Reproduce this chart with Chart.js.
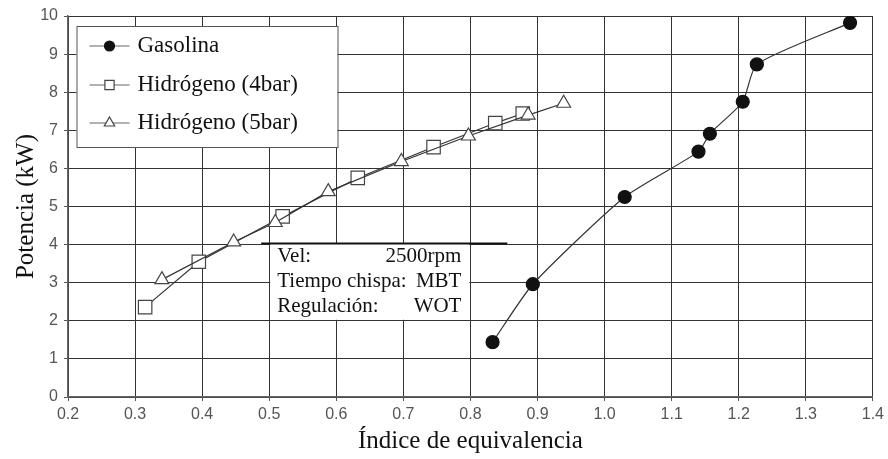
<!DOCTYPE html>
<html>
<head>
<meta charset="utf-8">
<script src="https://cdn.jsdelivr.net/npm/chart.js@4.4.0/dist/chart.umd.min.js"></script>
<style>
  html, body { margin: 0; padding: 0; background: #fff; }
  #wrap { width: 888px; height: 459px; }
</style>
</head>
<body>
<div id="wrap"><canvas id="c"></canvas></div>
<script>
// Potencia frente a índice de equivalencia
const gasolinaX = [0.833, 0.893, 1.030, 1.140, 1.157, 1.206, 1.227, 1.366];
const gasolinaY = [1.44, 2.96, 5.25, 6.44, 6.91, 7.75, 8.73, 9.82];

const h4barX = [0.315, 0.395, 0.520, 0.632, 0.745, 0.837, 0.878];
const h4barY = [2.36, 3.55, 4.74, 5.75, 6.56, 7.19, 7.44];

const h5barX = [0.340, 0.447, 0.509, 0.588, 0.697, 0.797, 0.886, 0.939];
const h5barY = [3.08, 4.07, 4.58, 5.39, 6.18, 6.85, 7.40, 7.71];

const seriesNames = ['Gasolina', 'Hidrógeno (4bar)', 'Hidrógeno (5bar)'];
const noteLines = [['Vel:', '2500rpm'], ['Tiempo chispa:', 'MBT'], ['Regulación:', 'WOT']];
const xTitle = 'Índice de equivalencia';
const yTitle = 'Potencia (kW)';

const pts = (xs, ys) => xs.map((x, i) => ({ x, y: ys[i] }));

const SERIF = '"Liberation Serif", "Times New Roman", serif';
const SANS = '"Liberation Sans", Arial, sans-serif';

const markerStyles = [
  { pointStyle: 'circle', fill: '#111', stroke: '#111', radius: 6.5, legendRadius: 5 },
  { pointStyle: 'rect', fill: '#fff', stroke: '#444', radius: 9.5, legendRadius: 6.5 },
  { pointStyle: 'triangle', fill: '#fff', stroke: '#444', radius: 8, legendRadius: 6 }
];

// White note box with the test conditions
const notePlugin = {
  id: 'noteBox',
  beforeDatasetsDraw(chart) {
    const { ctx, scales: { x, y } } = chart;
    const l = x.getPixelForValue(0.5) + 1, r = x.getPixelForValue(0.8) - 1;
    const t = y.getPixelForValue(4) - 1, b = y.getPixelForValue(2) - 1;
    ctx.save();
    ctx.fillStyle = '#fff';
    ctx.fillRect(l, t, r - l, b - t);
    ctx.strokeStyle = '#111';
    ctx.lineWidth = 2;
    ctx.beginPath();
    ctx.moveTo(x.getPixelForValue(0.488), t);
    ctx.lineTo(x.getPixelForValue(0.855), t);
    ctx.stroke();
    ctx.fillStyle = '#111';
    ctx.font = '21px ' + SERIF;
    ctx.textBaseline = 'alphabetic';
    const textL = l + 7, textR = r - 8;
    noteLines.forEach((row, i) => {
      const base = t + 18 + i * 25;
      ctx.textAlign = 'left';
      ctx.fillText(row[0], textL, base);
      ctx.textAlign = 'right';
      ctx.fillText(row[1], textR, base);
    });
    ctx.restore();
  }
};

// Legend box in the upper-left corner of the plot
const legendPlugin = {
  id: 'boxLegend',
  afterDraw(chart) {
    const { ctx, chartArea } = chart;
    const left = chartArea.left + 8.5, top = chartArea.top + 10;
    const w = 261, h = 121;
    ctx.save();
    ctx.fillStyle = '#fff';
    ctx.fillRect(left, top, w, h);
    ctx.strokeStyle = '#555';
    ctx.lineWidth = 1;
    ctx.strokeRect(left + 0.5, top + 0.5, w, h);
    const rowY = [top + 20, top + 59, top + 97];
    seriesNames.forEach((name, i) => {
      const m = markerStyles[i];
      const cy = rowY[i];
      ctx.strokeStyle = '#666';
      ctx.lineWidth = 1.2;
      ctx.beginPath();
      ctx.moveTo(left + 13, cy);
      ctx.lineTo(left + 53, cy);
      ctx.stroke();
      ctx.fillStyle = m.fill;
      ctx.strokeStyle = m.stroke;
      ctx.lineWidth = 1.2;
      Chart.helpers.drawPoint(ctx, { pointStyle: m.pointStyle, radius: m.legendRadius, rotation: 0, borderWidth: 1.2 }, left + 33, cy);
      ctx.fillStyle = '#111';
      ctx.font = '23px ' + SERIF;
      ctx.textAlign = 'left';
      ctx.textBaseline = 'middle';
      ctx.fillText(name, left + 61, cy);
    });
    ctx.restore();
  }
};

const datasets = [
  { label: seriesNames[0], data: pts(gasolinaX, gasolinaY), tension: 0.2, order: 2 },
  { label: seriesNames[1], data: pts(h4barX, h4barY), tension: 0, order: 1 },
  { label: seriesNames[2], data: pts(h5barX, h5barY), tension: 0, order: 0 }
].map((d, i) => Object.assign(d, {
  showLine: true,
  borderColor: '#333',
  borderWidth: 1.2,
  pointStyle: markerStyles[i].pointStyle,
  pointRadius: markerStyles[i].radius,
  pointHoverRadius: markerStyles[i].radius,
  pointBackgroundColor: markerStyles[i].fill,
  pointBorderColor: markerStyles[i].stroke,
  pointBorderWidth: 1.2,
  fill: false
}));

new Chart(document.getElementById('c'), {
  type: 'line',
  data: { datasets },
  plugins: [notePlugin, legendPlugin],
  options: {
    responsive: true,
    maintainAspectRatio: false,
    animation: false,
    layout: { padding: { top: 16, right: 11, left: 0, bottom: 0 } },
    plugins: { legend: { display: false }, tooltip: { enabled: false } },
    scales: {
      x: {
        type: 'linear',
        min: 0.2, max: 1.4,
        afterFit: s => { s.height = 62; },
        ticks: {
          stepSize: 0.1,
          padding: 4,
          color: '#555',
          font: { family: SANS, size: 16 },
          callback: v => Number(v).toFixed(1)
        },
        grid: { color: '#333', lineWidth: 1, tickLength: 4, tickColor: '#555' },
        border: { color: '#666', width: 1.5 },
        title: { display: true, text: xTitle, color: '#111', font: { family: SERIF, size: 25 }, padding: { top: 0, bottom: 3 } }
      },
      y: {
        min: 0, max: 10,
        afterFit: s => { s.width = 68; },
        ticks: {
          stepSize: 1,
          padding: 6,
          color: '#555',
          font: { family: SANS, size: 16 }
        },
        grid: { color: '#333', lineWidth: 1, tickLength: 4, tickColor: '#555' },
        border: { color: '#666', width: 1.5 },
        title: { display: true, text: yTitle, color: '#111', font: { family: SERIF, size: 25 }, padding: { top: 11, bottom: 0 } }
      }
    }
  }
});
</script>
</body>
</html>
